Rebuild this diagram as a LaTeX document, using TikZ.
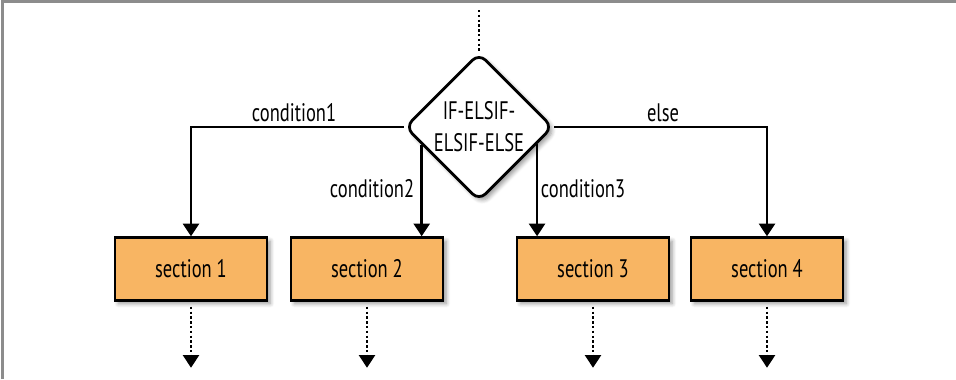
\documentclass[tikz,border=0pt]{standalone}
\usepackage{fontspec}
\setmainfont{PT Sans}[FakeStretch=0.73]
\usetikzlibrary{arrows.meta,shapes.geometric,shadows.blur,calc}

\definecolor{boxfill}{RGB}{248,181,99}
\definecolor{framegray}{RGB}{140,140,140}

\tikzset{
  every node/.style={font=\fontsize{19pt}{24pt}\selectfont},
  sectionbox/.style={draw=black, line width=2.1pt, fill=boxfill,
    minimum width=114pt, minimum height=47pt, inner sep=0pt,
    blur shadow={shadow xshift=2.5pt, shadow yshift=-2.5pt, shadow blur steps=6, shadow blur radius=3pt}},
  decision/.style={diamond, draw=black, line width=2.1pt, fill=white, aspect=1,
    minimum width=111pt, minimum height=111pt, inner sep=0pt, rounded corners=7pt, align=center,
    blur shadow={shadow xshift=2.5pt, shadow yshift=-2.5pt, shadow blur steps=6, shadow blur radius=3pt}},
  flow/.style={draw=black, line width=1.9pt, -{Triangle[width=12pt,length=9.5pt]}},
  dotflow/.style={flow, dash pattern=on 1.8pt off 1.8pt},
  dotline/.style={draw=black, line width=1.9pt, dash pattern=on 1.8pt off 1.8pt},
  lbl/.style={inner sep=0pt},
}

\begin{document}
\begin{tikzpicture}[x=0.75pt, y=-0.75pt]
  \useasboundingbox (0,0) rectangle (956,379);

  % thin grey frame along the top and left edge
  \draw[framegray, line width=1.6pt] (2.5,379) -- (2.5,1.5) -- (956,1.5);

  % decision diamond and the four sections
  \node[decision] (dia) at (479,127) {IF-ELSIF-\\ELSIF-ELSE};
  \node[sectionbox] (s1) at (191,269) {section 1};
  \node[sectionbox] (s2) at (367,269) {section 2};
  \node[sectionbox] (s3) at (593,269) {section 3};
  \node[sectionbox] (s4) at (767,269) {section 4};

  % entry from above
  \coordinate (top) at (479,10);
  \draw[dotline] (top) -- (dia.north);

  % branches
  \coordinate (c2) at ($(dia.west)!0.24!(dia.south)$);
  \coordinate (c3) at ($(dia.east)!0.23!(dia.south)$);
  \draw[flow] (dia.west) -| (s1.north);
  \draw[flow] (c2) -- (c2 |- s2.north);
  \draw[flow] (c3) -- (c3 |- s3.north);
  \draw[flow] (dia.east) -| (s4.north);

  % branch labels
  \node[lbl] (l1) at (294,113) {condition1};
  \node[lbl] (l2) at (372,189) {condition2};
  \node[lbl] (l3) at (583,189) {condition3};
  \node[lbl] (l4) at (663,113) {else};

  % exits below each section
  \foreach \s in {s1,s2,s3,s4}{
    \coordinate (\s out) at ($(\s.south)+(0,66)$);
    \draw[dotflow] ($(\s.south)+(0,5)$) -- (\s out);
  }
\end{tikzpicture}
\end{document}
